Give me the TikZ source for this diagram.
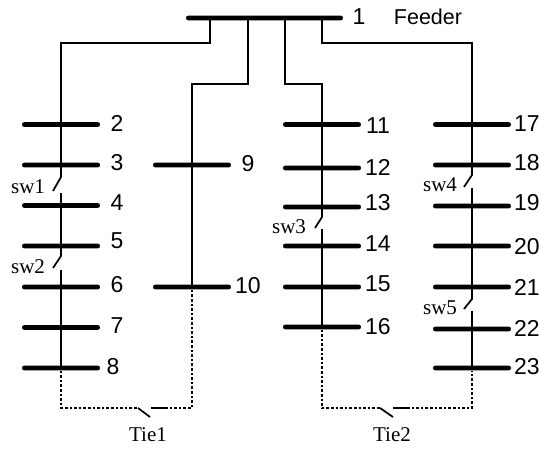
\documentclass[tikz,border=0pt]{standalone}
\usepackage{fontspec}
\setmainfont{Liberation Serif}
\setsansfont{Liberation Sans}
\begin{document}
\begin{tikzpicture}[x=1pt,y=-1pt,
  busbar/.style={fill=black,draw=none,inner sep=0pt,minimum height=4.8pt,minimum width=78pt,rounded corners=2.3pt},
  wire/.style={line width=1.75pt,draw=black,line join=miter},
  tie/.style={line width=1.6pt,draw=black,dash pattern=on 2.6pt off 2pt},
  num/.style={font=\sffamily\fontsize{23}{27}\selectfont,inner sep=0pt},
  swlab/.style={font=\fontsize{21}{25}\selectfont,inner sep=0pt}]
\useasboundingbox (0,0) rectangle (539,448);
% buses
\node[busbar,minimum width=157pt] (b1) at (264.5,18) {};
\foreach \n/\y in {2/124.5,3/165,4/205.5,5/246,6/287,7/327.5,8/368}
  \node[busbar] (b\n) at (61,\y) {};
\foreach \n/\y in {9/165,10/287}
  \node[busbar] (b\n) at (192,\y) {};
\foreach \n/\y in {11/124.5,12/168,13/207,14/246,15/287,16/327}
  \node[busbar] (b\n) at (322,\y) {};
\foreach \n/\y in {17/124.5,18/165,19/206,20/246,21/287,22/329,23/368}
  \node[busbar] (b\n) at (472,\y) {};
% numbers
\foreach \n/\x/\y in {1/359/17,2/117/123,3/117/163,4/117/203,5/117/241,6/117/285,7/117/326,8/113/367,
  9/248/164,10/248/286,11/378/126,12/378/167,13/378/203,14/378/244,15/378/284,16/378/327,
  17/527/124,18/527/163,19/527/203,20/527/247,21/527/287,22/527/328,23/527/367}
  \node[num] (n\n) at (\x,\y) {\n};
\node[num,font=\sffamily\fontsize{21.5}{25}\selectfont] (feeder) at (428,17) {Feeder};
% feeder branches
\coordinate (fa) at (210,18);
\coordinate (fb) at (248,18);
\coordinate (fc) at (285,18);
\coordinate (fd) at (322,18);
\coordinate (sw1a) at (61,177); \coordinate (sw1b) at (53,191); \coordinate (sw1c) at (61,193);
\coordinate (sw2a) at (61,256); \coordinate (sw2b) at (53,268); \coordinate (sw2c) at (61,270);
\coordinate (sw3a) at (322,217); \coordinate (sw3b) at (315,228); \coordinate (sw3c) at (322,229);
\coordinate (sw4a) at (472,175); \coordinate (sw4b) at (464,187); \coordinate (sw4c) at (472,188);
\coordinate (sw5a) at (472,299); \coordinate (sw5b) at (464,309); \coordinate (sw5c) at (472,311);
\draw[wire] (fa) -- (210,43) -- (61,43) -- (sw1a) -- (sw1b);
\draw[wire] (sw1c) -- (sw2a) -- (sw2b);
\draw[wire] (sw2c) -- (b8.center);
\draw[wire] (fb) -- (248,84) -- (192,84) -- (b10.center);
\draw[wire] (fc) -- (285,84) -- (322,84) -- (sw3a) -- (sw3b);
\draw[wire] (sw3c) -- (b16.center);
\draw[wire] (fd) -- (322,43) -- (472,43) -- (sw4a) -- (sw4b);
\draw[wire] (sw4c) -- (sw5a) -- (sw5b);
\draw[wire] (sw5c) -- (b23.center);
% tie lines
\coordinate (t1a) at (138,408); \coordinate (t1b) at (150,417); \coordinate (t1c) at (151,408); \coordinate (t1d) at (165,408);
\coordinate (t2a) at (380,408); \coordinate (t2b) at (393,417); \coordinate (t2c) at (393,408); \coordinate (t2d) at (407,408);
\draw[tie] (b8.center) ++(0,2.5) -- (61,408) -- (t1a);
\draw[wire] (t1a) -- (t1b);
\draw[wire] (t1c) -- (t1d);
\draw[tie] (t1d) -- (192,408) -- (192,289.5);
\draw[tie] (b16.center) ++(0,2.5) -- (322,408) -- (t2a);
\draw[wire] (t2a) -- (t2b);
\draw[wire] (t2c) -- (t2d);
\draw[tie] (t2d) -- (472,408) -- (472,370.5);
% labels
\node[swlab] (l1) at (28,187) {sw1};
\node[swlab] (l2) at (28,267) {sw2};
\node[swlab] (l3) at (289,227) {sw3};
\node[swlab] (l4) at (440,185) {sw4};
\node[swlab] (l5) at (440,308) {sw5};
\node[swlab] (ltie1) at (148,435) {Tie1};
\node[swlab] (ltie2) at (392,435) {Tie2};
\end{tikzpicture}
\end{document}
